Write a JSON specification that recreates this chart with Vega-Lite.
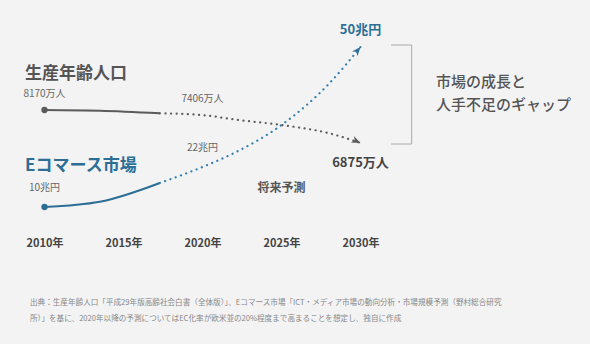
{
  "$schema": "https://vega.github.io/schema/vega-lite/v6.json",
  "width": 590,
  "height": 228,
  "autosize": {"type": "none"},
  "padding": {"left": 0, "top": 0, "right": 0, "bottom": 116},
  "background": "#f3f3f3",
  "config": {"view": {"stroke": null}, "font": "Noto Sans CJK JP"},
  "title": {
    "text": [
      "出典：生産年齢人口「平成29年版高齢社会白書（全体版）」、Eコマース市場「ICT・メディア市場の動向分析・市場規模予測（野村総合研究",
      "所）」を基に、2020年以降の予測についてはEC化率が欧米並の20%程度まで高まることを想定し、独自に作成"
    ],
    "orient": "bottom",
    "anchor": "start",
    "dx": 30,
    "offset": 51,
    "fontSize": 7.6,
    "fontWeight": "normal",
    "color": "#888888",
    "lineHeight": 16,
    "font": "Noto Sans CJK JP"
  },
  "encoding": {
    "x": {
      "field": "year",
      "type": "quantitative",
      "scale": {"domain": [2007.184, 2044.526], "nice": false, "zero": false},
      "axis": {
        "values": [2010, 2015, 2020, 2025, 2030],
        "labelExpr": "datum.value + '年'",
        "domain": false,
        "ticks": false,
        "grid": false,
        "title": null,
        "labelFontSize": 11,
        "labelFontWeight": "bold",
        "labelColor": "#444444",
        "labelPadding": 9,
        "labelFont": "Noto Sans CJK JP",
        "labelFlush": false
      }
    }
  },
  "layer": [
    {
      "data": {
        "values": [
          {"year": 2010, "pop": 8170, "label": "8170万人"},
          {"year": 2013.5, "pop": 8143},
          {"year": 2017.3, "pop": 8040},
          {"year": 2020, "pop": 7970, "label": "7406万人"},
          {"year": 2022, "pop": 7800},
          {"year": 2025, "pop": 7580},
          {"year": 2028, "pop": 7260},
          {"year": 2030, "pop": 6875, "label": "6875万人"}
        ]
      },
      "encoding": {
        "y": {"field": "pop", "type": "quantitative", "scale": {"domain": [3539.5, 12486.6], "nice": false, "zero": false}, "axis": null}
      },
      "layer": [
        {"transform": [{"filter": "datum.year <= 2017.3"}], "mark": {"type": "line", "color": "#5b5b5b", "strokeWidth": 2, "interpolate": "monotone"}},
        {"transform": [{"filter": "datum.year >= 2017.3"}], "mark": {"type": "line", "color": "#5b5b5b", "strokeWidth": 2.2, "strokeDash": [0.1, 5.5], "strokeCap": "round", "interpolate": "monotone"}},
        {"transform": [{"filter": "datum.year == 2010"}], "mark": {"type": "point", "shape": "circle", "filled": true, "size": 40, "color": "#5b5b5b", "opacity": 1}},
        {"transform": [{"filter": "datum.year == 2030"}], "mark": {"type": "point", "shape": "M0,0L-2,-0.8L-1.4,0L-2,0.8Z", "filled": true, "size": 80, "angle": 25, "color": "#5b5b5b", "opacity": 1}},
        {"transform": [{"filter": "datum.label != null && datum.year < 2030"}], "mark": {"type": "text", "dy": -16, "fontSize": 10, "color": "#666666"}, "encoding": {"text": {"field": "label"}}},
        {"transform": [{"filter": "datum.year == 2030"}], "mark": {"type": "text", "dy": 20, "fontSize": 13, "fontWeight": "bold", "color": "#444444"}, "encoding": {"text": {"field": "label"}}},
        {"data": {"values": [{"year": 2008.77, "pop": 9583, "text": "生産年齢人口"}]}, "mark": {"type": "text", "align": "left", "baseline": "middle", "fontSize": 17, "fontWeight": "bold", "color": "#555555"}, "encoding": {"text": {"field": "text"}}}
      ]
    },
    {
      "data": {
        "values": [
          {"year": 2010, "ec": 10, "label": "10兆円"},
          {"year": 2013.5, "ec": 11.3},
          {"year": 2017.3, "ec": 16},
          {"year": 2020, "ec": 20, "label": "22兆円"},
          {"year": 2022, "ec": 23.5},
          {"year": 2025, "ec": 30.5},
          {"year": 2028, "ec": 40.8},
          {"year": 2030, "ec": 50, "label": "50兆円"}
        ]
      },
      "encoding": {
        "y": {"field": "ec", "type": "quantitative", "scale": {"domain": [4.75, 61.75], "nice": false, "zero": false}, "axis": null}
      },
      "layer": [
        {"transform": [{"filter": "datum.year <= 2017.3"}], "mark": {"type": "line", "color": "#2c6e96", "strokeWidth": 2, "interpolate": "monotone"}},
        {"transform": [{"filter": "datum.year >= 2017.3"}], "mark": {"type": "line", "color": "#347fae", "strokeWidth": 2.2, "strokeDash": [0.1, 5.5], "strokeCap": "round", "interpolate": "monotone"}},
        {"transform": [{"filter": "datum.year == 2010"}], "mark": {"type": "point", "shape": "circle", "filled": true, "size": 40, "color": "#2c6e96", "opacity": 1}},
        {"transform": [{"filter": "datum.year == 2030"}], "mark": {"type": "point", "shape": "M0,0L-2,-0.8L-1.4,0L-2,0.8Z", "filled": true, "size": 80, "angle": 310, "color": "#2c6e96", "opacity": 1}},
        {"transform": [{"filter": "datum.label != null && datum.year < 2030"}], "mark": {"type": "text", "dy": -19, "fontSize": 10, "color": "#666666"}, "encoding": {"text": {"field": "label"}}},
        {"transform": [{"filter": "datum.year == 2030"}], "mark": {"type": "text", "dy": -17, "fontSize": 13, "fontWeight": "bold", "color": "#2c6e96"}, "encoding": {"text": {"field": "label"}}},
        {"data": {"values": [{"year": 2008.77, "ec": 20.25, "text": "Eコマース市場"}]}, "mark": {"type": "text", "align": "left", "baseline": "middle", "fontSize": 17, "fontWeight": "bold", "color": "#2c6e96"}, "encoding": {"text": {"field": "text"}}},
        {"data": {"values": [{"year": 2025, "ec": 14.75, "text": "将来予測"}]}, "mark": {"type": "text", "align": "center", "baseline": "middle", "fontSize": 12, "fontWeight": "bold", "color": "#555555"}, "encoding": {"text": {"field": "text"}}},
        {"data": {"values": [{"year": 2034.78, "ec": 41.25, "text": "市場の成長と"}, {"year": 2034.78, "ec": 35.5, "text": "人手不足のギャップ"}]}, "mark": {"type": "text", "align": "left", "baseline": "middle", "fontSize": 15, "fontWeight": 500, "color": "#555555"}, "encoding": {"text": {"field": "text"}}},
        {"data": {"values": [{"i": 1, "year": 2031.93, "ec": 50.5}, {"i": 2, "year": 2033.24, "ec": 50.5}, {"i": 3, "year": 2033.24, "ec": 25.75}, {"i": 4, "year": 2031.93, "ec": 25.75}]}, "mark": {"type": "line", "color": "#aaaaaa", "strokeWidth": 1}, "encoding": {"order": {"field": "i", "type": "quantitative"}}}
      ]
    }
  ],
  "resolve": {"scale": {"y": "independent"}}
}
